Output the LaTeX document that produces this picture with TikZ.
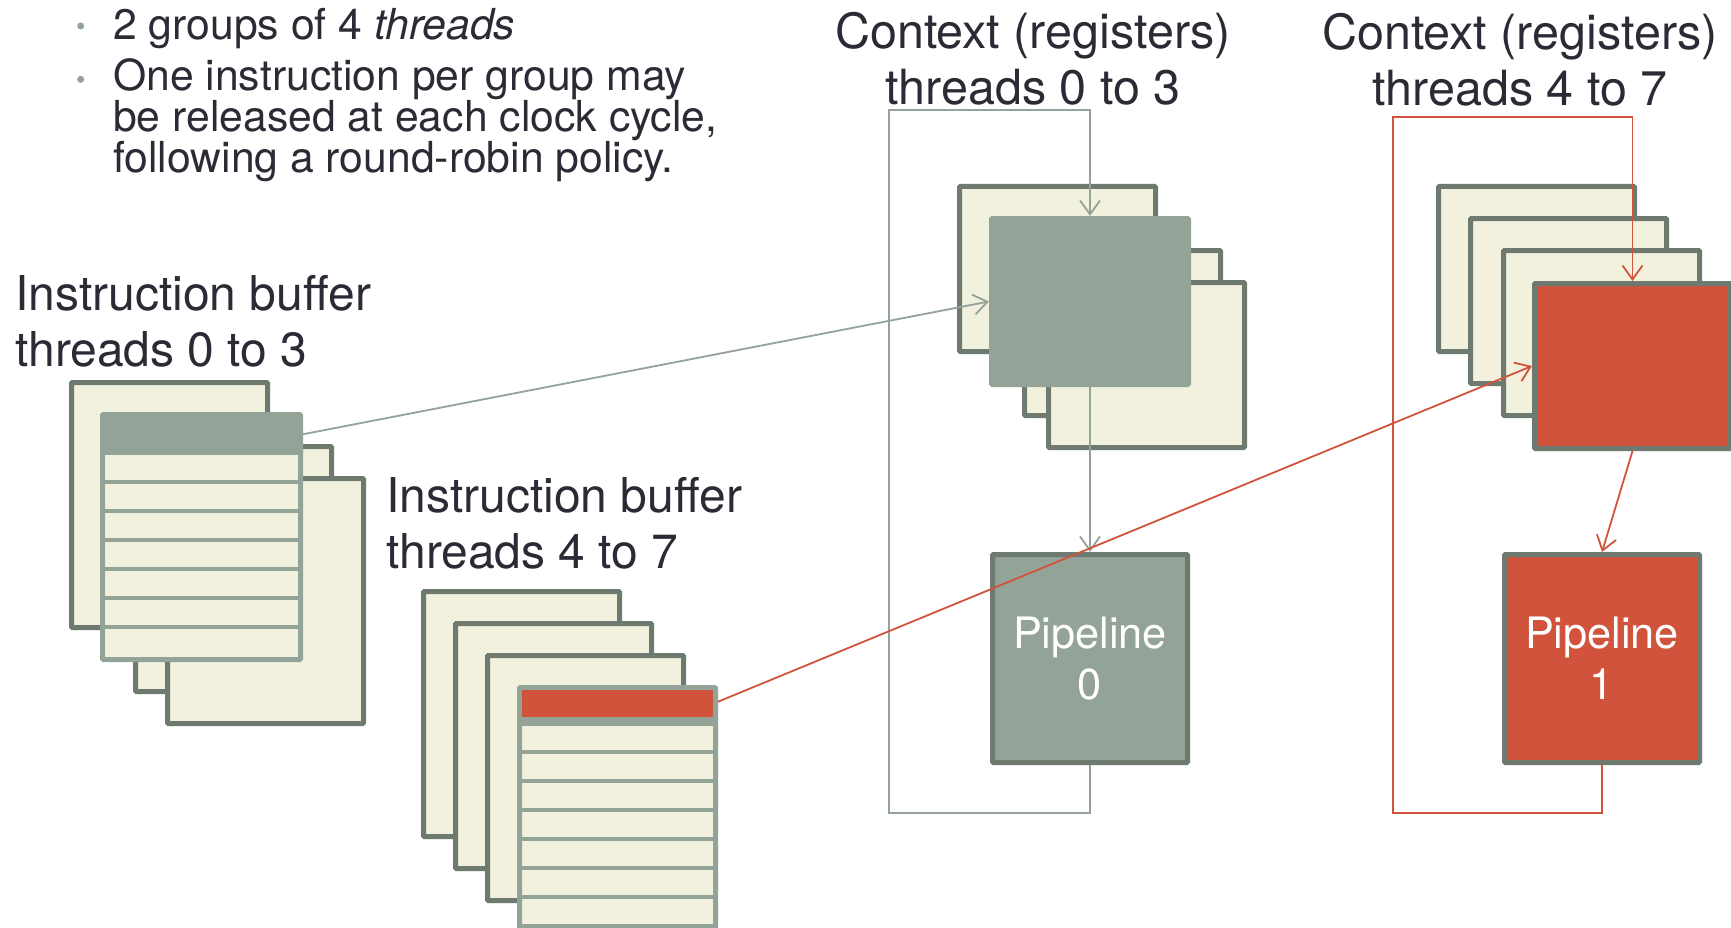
\documentclass[tikz,border=0pt]{standalone}
\usepackage{fontspec}
\setmainfont{TeX Gyre Heros}
\usetikzlibrary{arrows.meta,calc}
\definecolor{cream}{HTML}{F2F1DD}
\definecolor{sage}{HTML}{93A398}
\definecolor{slate}{HTML}{6E7A70}
\definecolor{brick}{HTML}{D1533B}
\definecolor{ink}{HTML}{2B2A35}

\begin{document}
\begin{tikzpicture}[x=1pt,y=-1pt,
  sheet/.style={draw=slate, fill=cream, line width=5pt, rounded corners=1pt,
    inner sep=0pt, anchor=north west},
  bufsheet/.style={sheet, minimum width=196pt, minimum height=245pt},
  ctxsheet/.style={sheet, minimum width=196pt, minimum height=165pt},
  buftable/.style={bufsheet, draw=sage},
  band/.style={inner sep=0pt, outer sep=0pt, anchor=north west, draw=none},
  rowline/.style={draw=sage, line width=4.5pt},
  link/.style={line width=1.8pt, -{Straight Barb[length=14pt,width=20pt]}},
  glink/.style={link, draw=sage},
  rlink/.style={link, draw=brick},
  dot/.style={circle, fill=sage, inner sep=0pt, minimum size=7pt},
  bodytext/.style={font=\fontsize{42.7}{41}\selectfont, text=ink, inner sep=0pt},
  title/.style={font=\fontsize{48.5}{56}\selectfont, text=ink, inner sep=0pt},
  buftitle/.style={title, font=\fontsize{48}{56}\selectfont},
  pipe/.style={draw=slate, line width=5pt, rounded corners=1pt,
    minimum width=195pt, minimum height=208pt, anchor=north west,
    text=white, align=center, font=\fontsize{43.3}{51}\selectfont, inner sep=0pt},
]
\useasboundingbox (0,0) rectangle (1731,928);
\clip (0,0) rectangle (1731,928);
\fill[white] (0,0) rectangle (1731,928);

% bullet list
\node[dot] (d1) at (80.7,26) {};
\node[dot] (d2) at (80.7,79.3) {};
\node[bodytext, anchor=base west] (t1) at (113,40) {2 groups of 4 \textit{threads}};
\node[bodytext, anchor=base west, align=left] (t2) at (113,173)
  {One instruction per group may\\be released at each clock cycle,\\following a round-robin policy.};

% titles
\node[buftitle, anchor=base west, align=left] (lb0) at (15,366.5)
  {Instruction buffer\\threads 0 to 3};
\node[buftitle, anchor=base west, align=left] (lb1) at (386,568)
  {Instruction buffer\\threads 4 to 7};
\node[title, anchor=base, align=center] (lc0) at (1033,105)
  {Context (registers)\\threads 0 to 3};
\node[title, anchor=base, align=center] (lc1) at (1520,106)
  {Context (registers)\\threads 4 to 7};

% instruction buffer, threads 0 to 3
\node[bufsheet] (b0s1) at (69,380) {};
\node[bufsheet] (b0s2) at (133,444) {};
\node[bufsheet] (b0s3) at (165,476) {};
\node[buftable, minimum width=198pt] (b0t) at (100,412) {};
\node[band, fill=sage, minimum width=198pt, minimum height=40.5pt] (b0h)
  at ($(b0t.north west)+(2.5,2.5)$) {};
\foreach \k in {0,...,5}
  \draw[rowline] ($(b0t.north west)+(2.5,2.5+67.5+29*\k)$)
              -- ($(b0t.north east)+(-2.5,2.5+67.5+29*\k)$);

% instruction buffer, threads 4 to 7
\node[bufsheet] (b1s1) at (421,589) {};
\node[bufsheet] (b1s2) at (453,621) {};
\node[bufsheet] (b1s3) at (485,653) {};
\node[buftable] (b1t) at (517,685) {};
\node[band, fill=sage, minimum width=196pt, minimum height=38pt] (b1band)
  at ($(b1t.north west)+(2.5,2.5)$) {};
\node[band, fill=brick, minimum width=191.6pt, minimum height=27.3pt] (b1h)
  at ($(b1t.north west)+(4.7,5)$) {};
\foreach \k in {0,...,6}
  \draw[rowline] ($(b1t.north west)+(2.5,2.5+64.5+29*\k)$)
              -- ($(b1t.north east)+(-2.5,2.5+64.5+29*\k)$);

% contexts, threads 0 to 3
\node[ctxsheet] (c0s1) at (957,184) {};
\node[ctxsheet] (c0s2) at (1022,248) {};
\node[ctxsheet] (c0s3) at (1046,280) {};
\node[ctxsheet, draw=sage, fill=sage, minimum width=197pt, minimum height=166pt] (c0f) at (989,216) {};

% contexts, threads 4 to 7
\node[ctxsheet] (c1s1) at (1436,184) {};
\node[ctxsheet] (c1s2) at (1468,216) {};
\node[ctxsheet] (c1s3) at (1501,248) {};
\node[ctxsheet, fill=brick] (c1f) at (1532,281) {};

% pipelines
\node[pipe, fill=sage] (p0) at (990,552) {Pipeline\\0};
\node[pipe, fill=brick] (p1) at (1502,552) {Pipeline\\1};

% write-back loops
\coordinate (g0a) at (889,813);
\coordinate (g0b) at (889,110);
\coordinate (r1a) at (1393,813);
\coordinate (r1b) at (1393,117);
\draw[glink] (p0.south) |- (g0a) -- (g0b) -| (c0f.north);
\draw[rlink] (p1.south) |- (r1a) -- (r1b) -| (c1f.north);

% issue paths
\draw[glink] (b0h.east) -- (c0f.west);
\draw[glink] (c0f.south) -- (p0.north);
\draw[rlink, shorten <=5pt] (b1h.east) -- (c1f.west);
\draw[rlink] (c1f.south) -- (p1.north);
\end{tikzpicture}
\end{document}
